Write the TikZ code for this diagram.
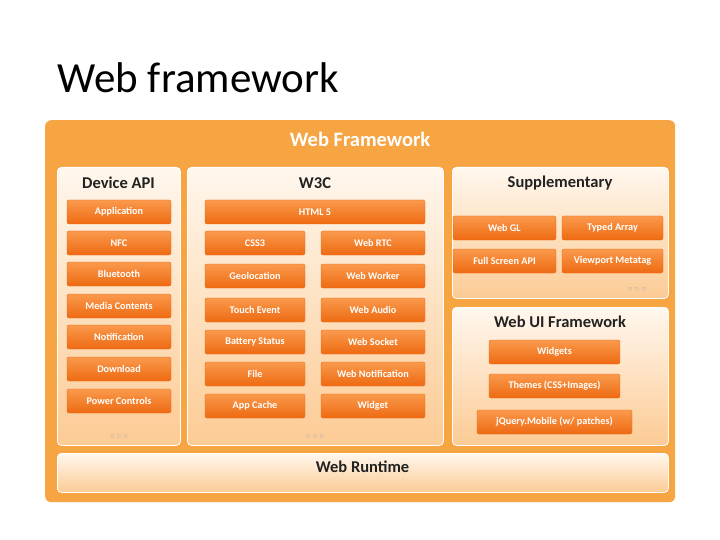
\documentclass[tikz,border=0pt]{standalone}
\usepackage{fontspec}
\setmainfont{Carlito}
\usetikzlibrary{positioning}
\definecolor{btnTop}{HTML}{FA9A4C}
\definecolor{btnBot}{HTML}{EE6A12}
\definecolor{frame}{HTML}{F7A443}
\definecolor{panelTop}{HTML}{FFF7EE}
\definecolor{panelBot}{HTML}{FCCB94}
\definecolor{headText}{HTML}{222222}
\begin{document}
\begin{tikzpicture}
  [x=1pt, y=-1pt,
   btn/.style={
    rectangle,
    rounded corners=2pt,
    top color=btnTop,
    bottom color=btnBot,
    draw=btnBot,
    text=white,
    font=\fontsize{10.2}{12}\selectfont\bfseries,
    inner sep=0pt,
    minimum height=24pt},
   panel/.style={
    rectangle,
    rounded corners=4pt,
    top color=panelTop,
    bottom color=panelBot,
    draw=white,
    thick},
   head/.style={
    text=headText,
    font=\fontsize{16.5}{18}\selectfont\bfseries},
   dots/.style={
    text=gray!60,
    font=\fontsize{9}{9}\selectfont}]

  \useasboundingbox (0,0) rectangle (720,540);
  \fill [white] (0,0) rectangle (720,540);

  \node [anchor=west, font=\fontsize{43}{46}\selectfont] (title) at (54,78) {Web framework};

  % outer frame
  \node [rectangle, rounded corners=6pt, fill=frame, minimum width=630pt,
    minimum height=382pt, anchor=north west] (frame) at (45,120) {};
  \node [text=white, font=\fontsize{20.5}{22}\selectfont\bfseries] (fwhead) at (360,139) {Web Framework};

  % panels
  \node [panel, minimum width=123pt, minimum height=278pt, anchor=north west] (devpanel) at (57,167) {};
  \node [panel, minimum width=256pt, minimum height=278pt, anchor=north west] (w3cpanel) at (187,167) {};
  \node [panel, minimum width=216pt, minimum height=131pt, anchor=north west] (suppanel) at (452,167) {};
  \node [panel, minimum width=216pt, minimum height=138pt, anchor=north west] (uipanel) at (452,307) {};
  \node [panel, minimum width=611pt, minimum height=39pt, anchor=north west] (rtpanel) at (57,453) {};

  \node [head] (devhead) at (118.5,183) {Device API};
  \node [head] (w3chead) at (315,183) {W3C};
  \node [head] (suphead) at (560,183) {Supplementary};
  \node [head] (uihead) at (560,322) {Web UI Framework};
  \node [head] (rthead) at (362.5,467) {Web Runtime};

  % Device API
  \foreach \name/\txt/\y in {app/Application/212, nfc/NFC/243, bt/Bluetooth/274,
      media/Media Contents/306, notif/Notification/337, down/Download/369,
      power/Power Controls/401}
    \node [btn, minimum width=104pt] (\name) at (119,\y) {\txt};

  % W3C
  \node [btn, minimum width=220pt] (html) at (315,212) {HTML 5};
  \foreach \name/\txt/\y in {css/CSS3/243, geo/Geolocation/276, touch/Touch Event/310,
      batt/Battery Status/342, file/File/374, cache/App Cache/406}
    \node [btn, minimum width=100pt] (\name) at (255,\y) {\txt};
  \foreach \name/\txt/\y in {rtc/Web RTC/243, worker/Web Worker/276, audio/Web Audio/310,
      sock/Web Socket/342, wnotif/Web Notification/374, widget/Widget/406}
    \node [btn, minimum width=104pt] (\name) at (373,\y) {\txt};

  % Supplementary
  \node [btn, minimum width=103pt] (webgl) at (504.5,228) {Web GL};
  \node [btn, minimum width=101pt] (typed) at (612.5,228) {Typed Array};
  \node [btn, minimum width=103pt] (full) at (504.5,261) {Full Screen API};
  \node [btn, minimum width=101pt] (view) at (612.5,261) {Viewport Metatag};

  % Web UI Framework
  \node [btn, minimum width=131pt] (widgets) at (554.5,352) {Widgets};
  \node [btn, minimum width=131pt] (themes) at (554.5,386) {Themes (CSS+Images)};
  \node [btn, minimum width=155pt] (jquery) at (554.5,422) {jQuery.Mobile (w/ patches)};

  % dots
  \node [dots] (devdots) at (119,436) {$\circ\circ\circ$};
  \node [dots] (w3cdots) at (315,436) {$\circ\circ\circ$};
  \node [dots] (supdots) at (637,289) {$\circ\circ\circ$};
\end{tikzpicture}
\end{document}
